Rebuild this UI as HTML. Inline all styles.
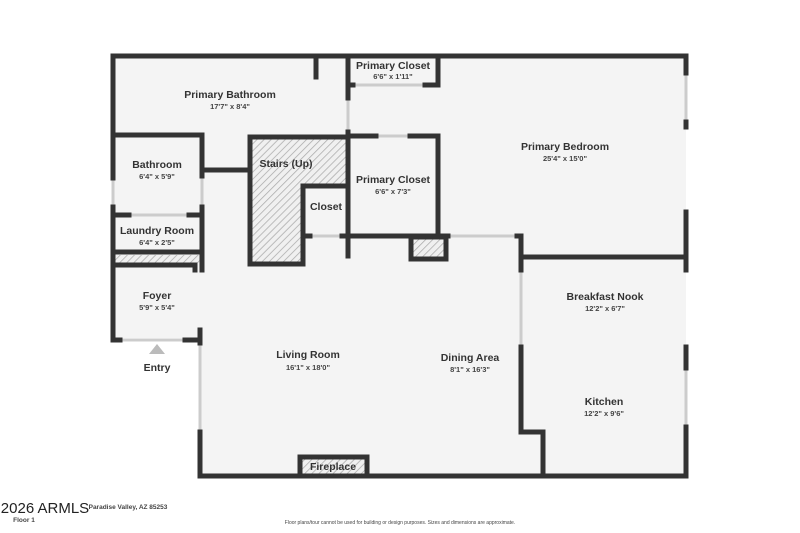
<!DOCTYPE html>
<html><head><meta charset="utf-8"><style>
html,body{margin:0;padding:0;background:#fff;}
svg{display:block;}
text{font-family:"Liberation Sans",sans-serif;fill:#333;text-anchor:middle;}
.t{font-size:10.5px;font-weight:bold;}
.d{font-size:7.5px;font-weight:bold;fill:#444;}
</style></head><body>
<svg width="800" height="533" viewBox="0 0 800 533" xmlns="http://www.w3.org/2000/svg">
<defs>
<pattern id="h" patternUnits="userSpaceOnUse" width="5" height="5" patternTransform="rotate(45)">
<rect width="5" height="5" fill="#f0f0f0"/><line x1="0" y1="0" x2="0" y2="5" stroke="#aaa" stroke-width="1.5"/>
</pattern>
</defs>
<!-- floor -->
<polygon points="113,56 686,56 686,476 200,476 200,338 113,338" fill="#f4f4f4"/>
<!-- hatches -->
<polygon points="252,139 346,139 346,186 303,186 303,262 252,262" fill="url(#h)"/>
<rect x="113" y="255" width="87" height="8" fill="url(#h)"/>
<rect x="413" y="238" width="31" height="20" fill="url(#h)"/>
<rect x="302" y="457" width="63" height="18" fill="url(#h)"/>
<!-- windows (light) -->
<g stroke="#ccc" stroke-width="3" fill="none">
<line x1="113" y1="178" x2="113" y2="207"/>
<line x1="122" y1="340" x2="183" y2="340"/>
<line x1="200" y1="345" x2="200" y2="430"/>
<line x1="686" y1="75" x2="686" y2="120"/>
<line x1="686" y1="370" x2="686" y2="425"/>
<line x1="355" y1="85" x2="423" y2="85"/>
<line x1="450" y1="236" x2="515" y2="236"/>
<line x1="131" y1="215" x2="187" y2="215"/>
<line x1="312" y1="236" x2="340" y2="236"/>
<line x1="378" y1="136" x2="408" y2="136"/>
<line x1="521" y1="272" x2="521" y2="345"/>
<line x1="348" y1="100" x2="348" y2="130"/>
<line x1="202" y1="178" x2="202" y2="205"/>
</g>
<!-- walls -->
<g stroke="#333" stroke-width="5" fill="none" stroke-linecap="square">
<line x1="113" y1="56" x2="686" y2="56"/>
<line x1="113" y1="56" x2="113" y2="178"/>
<line x1="113" y1="207" x2="113" y2="340"/>
<line x1="113" y1="340" x2="120" y2="340"/>
<line x1="185" y1="340" x2="200" y2="340"/>
<line x1="200" y1="330" x2="200" y2="343"/>
<line x1="200" y1="432" x2="200" y2="476"/>
<line x1="200" y1="476" x2="686" y2="476"/>
<line x1="686" y1="56" x2="686" y2="73"/>
<line x1="686" y1="122" x2="686" y2="127"/>
<line x1="686" y1="212" x2="686" y2="270"/>
<line x1="686" y1="347" x2="686" y2="368"/>
<line x1="686" y1="427" x2="686" y2="476"/>
<!-- bathroom -->
<line x1="113" y1="135" x2="202" y2="135"/>
<line x1="202" y1="135" x2="202" y2="176"/>
<line x1="202" y1="207" x2="202" y2="270"/>
<line x1="202" y1="170" x2="250" y2="170"/>
<line x1="113" y1="215" x2="129" y2="215"/>
<line x1="189" y1="215" x2="202" y2="215"/>
<line x1="113" y1="252" x2="200" y2="252"/>
<line x1="113" y1="265" x2="195" y2="265"/>
<line x1="195" y1="265" x2="195" y2="270"/>
<line x1="316" y1="56" x2="316" y2="77"/>
<!-- closets -->
<line x1="348" y1="56" x2="348" y2="98"/>
<line x1="348" y1="132" x2="348" y2="256"/>
<line x1="438" y1="56" x2="438" y2="85"/>
<line x1="348" y1="85" x2="353" y2="85"/>
<line x1="425" y1="85" x2="438" y2="85"/>
<line x1="348" y1="136" x2="376" y2="136"/>
<line x1="410" y1="136" x2="438" y2="136"/>
<line x1="438" y1="136" x2="438" y2="236"/>
<line x1="348" y1="236" x2="448" y2="236"/>
<line x1="517" y1="236" x2="521" y2="236"/>
<rect x="411" y="237" width="35" height="22"/>
<!-- stairs -->
<line x1="250" y1="137" x2="348" y2="137"/>
<line x1="250" y1="137" x2="250" y2="264"/>
<line x1="250" y1="264" x2="303" y2="264"/>
<line x1="303" y1="186" x2="303" y2="264"/>
<line x1="303" y1="186" x2="348" y2="186"/>
<line x1="303" y1="236" x2="310" y2="236"/>
<line x1="342" y1="236" x2="348" y2="236"/>
<!-- dining/kitchen -->
<line x1="521" y1="236" x2="521" y2="270"/>
<line x1="521" y1="347" x2="521" y2="432"/>
<line x1="521" y1="432" x2="543" y2="432"/>
<line x1="543" y1="432" x2="543" y2="476"/>
<line x1="521" y1="257" x2="686" y2="257"/>
<!-- fireplace -->
<polyline points="300,476 300,457 367,457 367,476"/>
</g>
<polygon points="157,344 149,354 165,354" fill="#bbb"/>
<g>
<text class="t" x="230" y="98">Primary Bathroom</text><text class="d" x="230" y="109">17'7" x 8'4"</text>
<text class="t" x="393" y="69">Primary Closet</text><text class="d" x="393" y="79">6'6" x 1'11"</text>
<text class="t" x="565" y="150">Primary Bedroom</text><text class="d" x="565" y="161">25'4" x 15'0"</text>
<text class="t" x="157" y="168">Bathroom</text><text class="d" x="157" y="179">6'4" x 5'9"</text>
<text class="t" x="286" y="167">Stairs (Up)</text>
<text class="t" x="393" y="183">Primary Closet</text><text class="d" x="393" y="194">6'6" x 7'3"</text>
<text class="t" x="326" y="210">Closet</text>
<text class="t" x="157" y="234">Laundry Room</text><text class="d" x="157" y="245">6'4" x 2'5"</text>
<text class="t" x="157" y="299">Foyer</text><text class="d" x="157" y="310">5'9" x 5'4"</text>
<text class="t" x="157" y="371">Entry</text>
<text class="t" x="308" y="358">Living Room</text><text class="d" x="308" y="370">16'1" x 18'0"</text>
<text class="t" x="470" y="361">Dining Area</text><text class="d" x="470" y="372">8'1" x 16'3"</text>
<text class="t" x="605" y="300">Breakfast Nook</text><text class="d" x="605" y="311">12'2" x 6'7"</text>
<text class="t" x="604" y="405">Kitchen</text><text class="d" x="604" y="416">12'2" x 9'6"</text>
<text class="t" x="333" y="470">Fireplace</text>
<text x="45" y="513" style="font-size:15px;text-anchor:middle;fill:#222">2026 ARMLS</text>
<text x="128" y="509" style="font-size:6.5px;font-weight:bold;fill:#444">Paradise Valley, AZ 85253</text>
<text x="24" y="522" style="font-size:6.5px;font-weight:bold;fill:#444">Floor 1</text>
<text x="400" y="524" style="font-size:5px;fill:#444">Floor plans/tour cannot be used for building or design purposes. Sizes and dimensions are approximate.</text>
</g>
</svg>
</body></html>
